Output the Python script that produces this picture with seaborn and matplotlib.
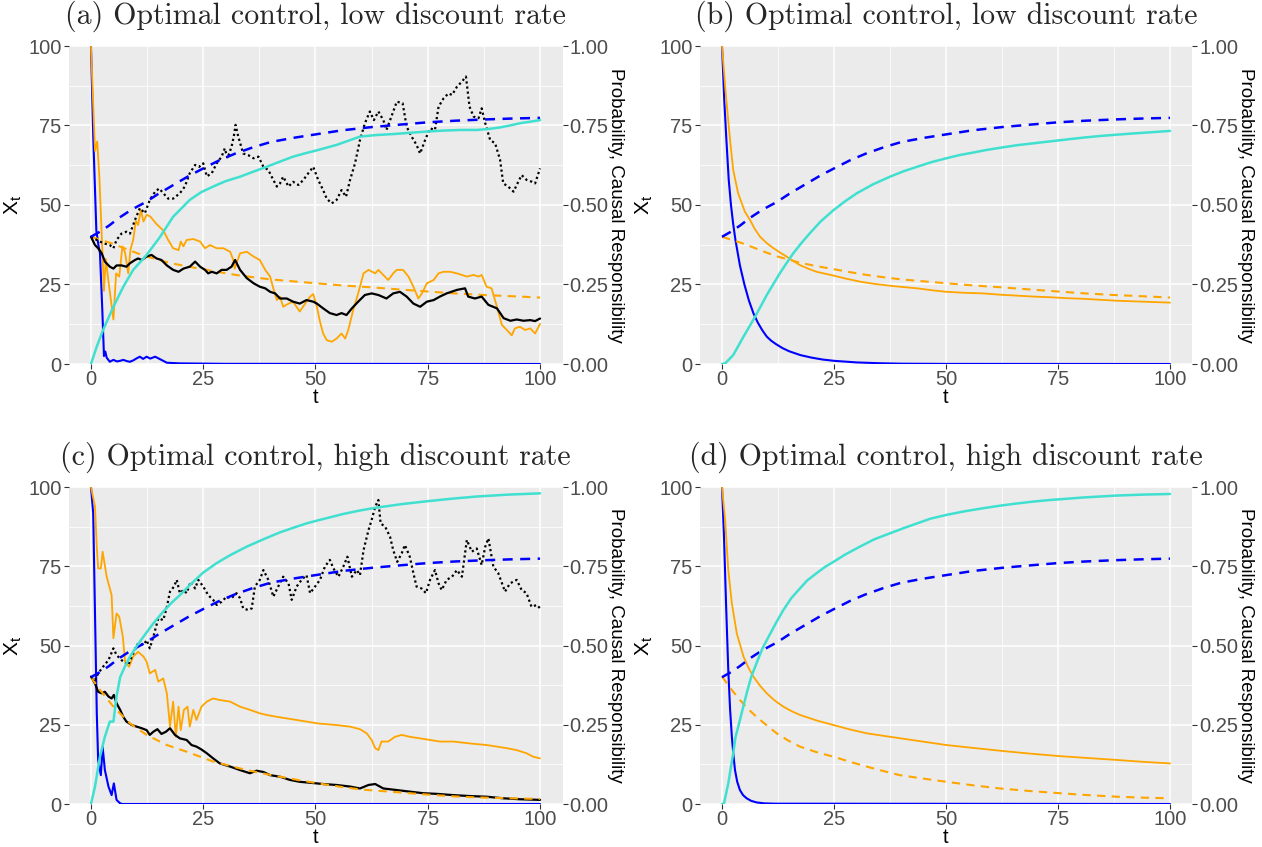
import numpy as np
import pandas as pd
import matplotlib
matplotlib.use("Agg")
import matplotlib.pyplot as plt
import seaborn as sns
from matplotlib.ticker import FixedLocator, FuncFormatter

# ---------------- data ----------------
# shared curves
blue_dashed = [(0, 40), (1, 40.8), (2, 41.6), (4, 43.5), (6.3, 46), (9, 48.5), (12.3, 51), (15, 53.5),
               (18.6, 56.5), (22, 59.3), (25, 61.5), (28.5, 64), (32, 66.1), (36, 68.1), (40, 69.8),
               (45, 71.1), (50, 72.2), (56, 73.5), (62.5, 74.5), (69, 75.3), (75, 76), (81, 76.5),
               (87.6, 76.9), (94, 77.2), (100, 77.4)]
orange_dashed_low = [(0, 40), (4.5, 38), (10, 35), (12.4, 33.8), (17.5, 31.8), (21, 30.8), (25, 29.8),
                     (28.5, 28.9), (32.3, 28), (36, 27.3), (40, 26.6), (45, 26), (50, 25.4), (56, 24.7),
                     (62.5, 24.1), (69, 23.4), (75, 22.8), (81, 22.2), (87.5, 21.7), (94, 21.3), (100, 20.9)]

# panel (a)
blue_a = [(0, 100), (0.5, 72), (1.2, 42), (1.7, 37), (2.0, 35), (2.5, 18), (2.9, 2.5), (3.2, 3.9),
          (3.5, 2.0), (4.2, 0.7), (5, 1.3), (5.8, 0.8), (6.5, 1.0), (7.2, 1.3), (8, 0.9), (8.7, 0.7),
          (9.5, 1.2), (10.2, 1.8), (10.9, 2.3), (11.6, 1.6), (12.4, 2.3), (13.2, 1.7), (14.3, 2.3),
          (15.4, 1.5), (16.9, 0.4), (19.8, 0.2), (30, 0.05), (100, 0)]
orange_a = [(0, 100), (0.9, 67), (1.4, 70), (1.9, 58), (2.9, 23), (3.3, 33), (3.9, 26), (5.0, 14),
            (5.6, 28.5), (6.3, 27.5), (7.0, 37), (7.6, 35), (8.3, 28.5), (8.8, 36), (9.4, 39), (10.0, 45),
            (10.5, 43.7), (11.1, 48.4), (11.7, 44.8), (12.4, 46.9), (13.2, 46.4), (14.6, 44), (16.1, 42),
            (17.2, 39), (18.3, 36.4), (19.5, 35.8), (20.0, 38.5), (20.6, 37), (21.3, 39), (22.8, 39.3),
            (24.3, 38.5), (25.4, 36.4), (26.5, 37.4), (28.0, 36.4), (29.5, 36.4), (31.0, 35.3), (31.7, 32.7),
            (32.0, 30), (33.2, 34.8), (34.7, 35.3), (36.2, 33.8), (37.6, 32.7), (38.8, 29.6), (39.9, 27.5),
            (40.6, 23.8), (41.4, 20.1), (42.1, 21.2), (42.8, 18), (44.0, 19), (45.0, 19.6), (46.5, 16.5),
            (47.7, 19), (48.8, 21.2), (49.5, 22), (50.3, 18), (51.0, 13.3), (51.7, 9.6), (52.5, 7.5),
            (53.6, 7), (54.7, 8), (55.8, 9.6), (56.6, 8), (57.3, 10.7), (58.4, 17), (59.5, 22.2),
            (60.7, 28.5), (61.8, 29.6), (63.3, 28.5), (64.0, 29.6), (65.1, 28), (66.2, 26.4), (67.3, 28.5),
            (68.1, 29.6), (69.5, 29.6), (70.7, 27.5), (71.8, 24.3), (72.9, 20.6), (73.7, 22.2), (74.8, 25.4),
            (76.3, 26.4), (77.4, 28.5), (78.5, 29), (80.0, 29), (81.5, 28.5), (83.7, 27.5), (85.2, 28),
            (86.3, 27.5), (87.0, 28), (88.1, 24.3), (89.2, 23.8), (90.4, 18), (91.5, 12.3), (92.6, 10.7),
            (93.7, 9), (94.4, 11.2), (95.5, 11.7), (96.7, 10.7), (97.8, 11.2), (98.9, 9.6), (100, 12.6)]
black_a = [(0, 40), (0.9, 37.4), (1.6, 36.4), (2.4, 34.8), (3.1, 32.2), (4.2, 30.6), (5, 30), (5.7, 31),
           (6.8, 31), (7.9, 30.6), (8.7, 31.7), (9.8, 32.7), (10.5, 33.2), (11.3, 32.7), (12.4, 33.8),
           (13.5, 34.3), (14.6, 33.2), (15.7, 32.7), (16.9, 31), (18.3, 29.6), (19.5, 29), (20.6, 30),
           (22, 30.6), (23.2, 32.2), (24.3, 30.6), (25.4, 29.6), (26.1, 28.5), (26.9, 29), (28, 28.5),
           (29.1, 29.6), (30.2, 29.6), (31.3, 30.6), (32.1, 32.7), (33.2, 29.6), (34.7, 27), (36.2, 25.4),
           (37.6, 24.3), (38.8, 23.8), (39.9, 22.7), (41, 22.2), (42.1, 20.6), (43.6, 20.6), (45, 19.6),
           (46.5, 19), (48, 20.1), (49.5, 19.6), (50.3, 19), (51.7, 17.5), (53.2, 16), (54.7, 15.4),
           (55.8, 16), (56.9, 15.4), (58.1, 17.5), (59.5, 19.6), (61, 21.7), (62.5, 22.2), (64, 21.7),
           (65.8, 20.6), (67.3, 22.2), (68.8, 22.7), (70.3, 21.2), (71.8, 19), (73.3, 18), (74.8, 19.6),
           (76.3, 20.1), (77.7, 21.2), (79.2, 22.2), (81.5, 23.3), (83.3, 23.8), (84, 21.2), (85.5, 20.6),
           (87, 21.2), (88.5, 18.6), (90.4, 17.5), (91.9, 14.4), (93.4, 13.6), (94.8, 14), (96.3, 13.6),
           (97.8, 13.8), (98.9, 13.5), (100, 14.3)]
dotted_a = [(0, 40), (1.3, 39), (2.7, 38), (4.2, 37.4), (5, 36.4), (5.7, 39), (6.8, 41), (7.9, 41.6),
            (8.7, 41), (9.8, 45.3), (10.9, 49), (12, 47.4), (13.1, 51.6), (14.3, 54.2), (15.2, 55.2),
            (16.1, 53.7), (17.2, 52), (18.3, 52), (19.8, 53.7), (20.9, 55.8), (22, 60), (23.2, 62.6),
            (24.1, 62), (25, 63.1), (25.8, 59), (26.9, 60), (28, 63.1), (29.1, 65.2), (29.8, 67.8),
            (30.4, 64.7), (31.3, 68.3), (31.8, 71.5), (32.2, 75.2), (32.8, 71.5), (33.9, 66.2), (35, 65.7),
            (36.2, 64.7), (37.3, 65.2), (38.4, 62), (39.5, 61), (40.6, 57.9), (41.4, 55.8), (42.1, 56.8),
            (42.8, 58.9), (44, 55.8), (45, 57.3), (46.2, 56.3), (47.3, 57.9), (48.4, 60), (49.5, 62),
            (50.6, 57.9), (51.7, 54.7), (52.5, 52), (53.6, 50.5), (54.7, 51.6), (55.8, 54.7), (56.8, 52.6),
            (57.7, 57.9), (58.8, 63.1), (59.9, 70.4), (61, 75.7), (62.1, 79.4), (63, 76.7), (64, 79.4),
            (65.1, 76.7), (65.8, 73.6), (66.9, 77.8), (68.1, 82.5), (69.4, 82), (70.3, 74.6), (71.4, 71.5),
            (72.5, 68.9), (73.3, 66.2), (74.4, 70.4), (75.5, 74.1), (76.6, 73.6), (77.4, 80.9), (78.5, 83.5),
            (79.6, 85.1), (80.4, 84.6), (81.5, 87.2), (82.6, 88.8), (83.5, 90.4), (84.3, 80.9), (85.2, 77.8),
            (86.3, 77.3), (87, 80.4), (87.8, 75.7), (88.9, 70.4), (90, 69.4), (91.1, 64.2), (91.8, 56.8),
            (92.9, 55.8), (94.1, 54.2), (94.8, 56.3), (95.9, 59.4), (97, 57.9), (98.2, 57.3), (98.9, 56.8),
            (100, 61.5)]
turq_a = [(0, 0), (1.3, 0.055), (2.7, 0.107), (5, 0.18), (7.2, 0.243), (9.4, 0.296), (12.4, 0.343),
          (15.4, 0.40), (18.3, 0.463), (22, 0.516), (24.5, 0.54), (27.2, 0.558), (30, 0.575), (33.2, 0.589),
          (36, 0.604), (39.1, 0.62), (42, 0.636), (45, 0.652), (47.8, 0.663), (50.6, 0.673), (54.7, 0.689),
          (57.5, 0.703), (59.9, 0.715), (63.5, 0.72), (67.3, 0.723), (71, 0.727), (74.8, 0.731), (78.5, 0.734),
          (82.2, 0.736), (85.9, 0.736), (88.5, 0.739), (91.1, 0.744), (93.3, 0.75), (95.5, 0.757),
          (97.8, 0.762), (100, 0.767)]

# panel (b)
blue_b = [(0, 100), (0.5, 83), (1, 70), (1.5, 58), (2, 50), (2.5, 44), (3, 39), (3.5, 35), (4, 31),
          (4.5, 28), (5, 25), (5.5, 22.5), (6, 20), (7, 16), (8, 13), (9, 10.6), (10, 8.6), (11, 7.3),
          (12, 6.3), (13.5, 5), (15, 4), (17.5, 2.8), (20, 2), (22.5, 1.4), (25, 1), (30, 0.5), (35, 0.25),
          (40, 0.1), (50, 0.03), (100, 0)]
orange_b = [(0, 100), (0.9, 84), (1.8, 70.4), (2.5, 61), (3.6, 53.7), (5.1, 47.9), (6.25, 45.3), (7.3, 42.5),
            (8.5, 40), (10, 38), (11.5, 36.4), (13, 35), (14.4, 33.8), (15.9, 32.4), (17.4, 31.1), (19.2, 30),
            (21.1, 29), (23, 28.4), (24.9, 27.8), (27.8, 26.8), (30.8, 25.9), (34, 25.2), (37.5, 24.6),
            (40.5, 24.2), (43.5, 23.8), (46.8, 23.2), (50.1, 22.7), (54, 22.4), (58.3, 22.2), (62, 21.8),
            (65.8, 21.5), (69.5, 21.2), (73.2, 21), (77, 20.7), (80.7, 20.5), (84.4, 20.2), (88.1, 19.9),
            (94, 19.6), (100, 19.3)]
turq_b = [(0, 0), (0.7, 0.002), (2.5, 0.028), (4.8, 0.086), (6, 0.115), (7.4, 0.149), (8.7, 0.183),
          (10, 0.217), (11.4, 0.25), (12.9, 0.285), (14.4, 0.317), (15.9, 0.348), (17.7, 0.38),
          (19.6, 0.411), (22, 0.448), (24.9, 0.484), (27.5, 0.512), (30.1, 0.537), (33.7, 0.565),
          (37.5, 0.589), (40.5, 0.606), (43.5, 0.62), (46.8, 0.635), (50.1, 0.647), (53, 0.657),
          (56.1, 0.665), (59, 0.673), (62.1, 0.68), (65.8, 0.688), (69.5, 0.694), (73.2, 0.70), (76.9, 0.706),
          (80.7, 0.712), (84.4, 0.717), (88, 0.721), (91.8, 0.725), (96, 0.729), (100, 0.733)]

# panel (c)
blue_c = [(0, 100), (0.5, 91.7), (0.9, 60), (1.3, 28.6), (1.6, 13.9), (2.2, 9.1), (2.6, 18), (3.1, 10.7),
          (3.9, 5.5), (4.6, 2.8), (5.1, 6.5), (5.7, 1.3), (6.5, 0.2), (7, 0), (100, 0)]
orange_c = [(0, 100), (0.9, 93.8), (1.3, 81), (1.6, 74.3), (2.2, 74.3), (2.6, 79.6), (3.5, 71.7), (4.6, 65.9),
            (5, 52.3), (5.7, 60.1), (6.3, 59.1), (7.1, 52.8), (7.6, 44.9), (8.5, 43.3), (9.4, 46.5),
            (10.5, 48), (11.7, 46.5), (12.4, 44.9), (13.1, 41.2), (14.3, 42.3), (15, 38.6), (16.1, 39.6),
            (16.9, 34.9), (17.6, 24.4), (18.3, 32.3), (18.9, 21.2), (19.5, 30.7), (20, 23.3), (20.7, 29.7),
            (21.5, 30.7), (22, 24.4), (22.8, 29.7), (23.5, 26.5), (24.6, 30.7), (25.8, 32.3), (27.2, 33.3),
            (28.7, 32.8), (31, 32.3), (33.2, 30.7), (35.4, 29.7), (37.6, 28.6), (39.1, 28.1), (41.4, 27.5),
            (43.6, 27), (45.8, 26.5), (48, 26), (50.6, 25.4), (54.7, 24.9), (57.7, 24.4), (59.9, 23.6),
            (61.4, 22.3), (62.5, 20.2), (63.3, 17.6), (64, 17), (64.7, 19.7), (66.2, 19.7), (67.7, 21.2),
            (69.2, 21.8), (71, 21.2), (73.3, 20.7), (75.5, 20.2), (77.7, 19.7), (80.7, 19.7), (84.4, 19.1),
            (88.1, 18.6), (90.4, 18.1), (92.6, 17.6), (94.8, 17), (97, 16), (98.5, 14.9), (100, 14.4)]
black_c = [(0, 40.2), (0.9, 38), (1.6, 35.4), (2.4, 34.9), (3.1, 35.4), (3.9, 33.9), (4.6, 33.3), (5.1, 34.4),
           (5.7, 31.8), (6.5, 29.7), (7.2, 27.5), (7.9, 26), (9.1, 24.9), (10.2, 24.4), (11.3, 23.9),
           (12.4, 23.3), (13.1, 21.8), (13.9, 22.8), (14.8, 23.6), (15.7, 22.1), (16.7, 22.8), (17.6, 23.9),
           (18.7, 21.8), (19.8, 20.7), (21.3, 20.2), (22.4, 18.6), (23.5, 18.1), (24.6, 17.2), (25.8, 16),
           (27.2, 14.4), (28.7, 12.8), (31, 11.8), (33.2, 10.7), (35.4, 9.7), (36.9, 10.5), (38.4, 10.1),
           (39.9, 9.1), (42.1, 8.6), (44.3, 7.6), (46.5, 7), (48.8, 6.7), (51.7, 6.3), (54.7, 6), (57.7, 5.5),
           (59.9, 4.9), (61.8, 6), (63.3, 6.3), (65.1, 4.9), (68.1, 4.4), (71, 3.9), (74, 3.4), (77, 3.2),
           (80.7, 2.8), (84.4, 2.5), (88.1, 2.3), (91.8, 1.8), (95.5, 1.5), (100, 1.3)]
orange_dashed_c = [(0, 40), (2, 36), (5, 30.7), (8.7, 25.4), (12.4, 21.8), (16.9, 18.6), (21.3, 16.5),
                   (27.2, 13.4), (31, 12), (34.7, 10.7), (38.4, 9.6), (42.1, 8.6), (46.4, 7.5), (50.6, 6.5),
                   (55.3, 5.5), (59.9, 4.6), (65.5, 4), (71, 3.4), (76.6, 2.8), (82.2, 2.3), (87.8, 2),
                   (93.3, 1.8), (100, 1.6)]
dotted_c = [(0, 40.2), (0.9, 39.1), (1.6, 41.2), (2.7, 43.3), (3.9, 45.4), (5, 49.1), (5.7, 47), (6.8, 45.4),
            (8.3, 43.8), (9.4, 47.5), (10.5, 50.7), (11.7, 50.2), (12.4, 51.7), (13.1, 49.1), (13.9, 52.8),
            (15, 58.6), (16.1, 58), (16.9, 62.2), (17.6, 67), (18.5, 68.6), (19.1, 70.7), (19.8, 66.5),
            (20.6, 67.5), (21.3, 66.5), (22.2, 70.1), (23.2, 68), (23.9, 70.7), (25, 68.6), (26.1, 65.9),
            (27.2, 64.4), (28, 62.8), (29.1, 63.8), (30.2, 65.4), (31.3, 64.9), (32.4, 66.5), (33.2, 64.9),
            (33.9, 61.7), (35, 61.2), (35.8, 61.7), (36.5, 68.6), (37.6, 70.7), (38.4, 73.8), (39.5, 70.7),
            (40.6, 65.4), (41.7, 68.6), (42.8, 71.7), (44, 69.6), (44.7, 64.4), (45.8, 68.6), (46.9, 70.7),
            (48, 72.2), (48.8, 66.5), (49.9, 68.6), (51, 70.7), (52.1, 74.9), (53.2, 77), (54, 74.3),
            (55.1, 71.7), (56.2, 74.9), (57.1, 78), (58.1, 71.7), (59.2, 73.8), (59.9, 72.2), (60.7, 80.1),
            (61.8, 86.4), (62.5, 89.6), (63.3, 93.8), (64, 95.9), (64.5, 88.5), (65.5, 87.5), (66.6, 84.3),
            (67.3, 80.1), (68.2, 76.4), (69.2, 79.1), (69.9, 81.7), (71, 78), (71.8, 72.8), (72.5, 68.6),
            (73.6, 68), (74.6, 66.5), (75.5, 70.7), (76.6, 73.8), (77.4, 69.6), (78.1, 67.5), (79.2, 70.7),
            (80.4, 71.7), (81.5, 73.8), (82.6, 71.7), (83.7, 83.3), (84.8, 79.6), (85.9, 80.6), (87, 75.4),
            (87.8, 81.2), (88.5, 83.8), (89.6, 74.9), (90.7, 72.8), (92.2, 67), (93.3, 69.6), (94.8, 70.7),
            (95.9, 67.5), (97, 66.5), (98.1, 62.2), (99.3, 62.8), (100, 61.7)]
turq_c = [(0, 0), (0.9, 0.055), (2, 0.149), (3.1, 0.212), (4.2, 0.26), (5, 0.26), (5.7, 0.34), (6.5, 0.40),
          (7.6, 0.435), (8.7, 0.465), (10.2, 0.498), (11.7, 0.528), (13.9, 0.57), (16.1, 0.607),
          (17.9, 0.634), (19.8, 0.659), (22.4, 0.696), (25, 0.73), (28, 0.76), (31, 0.785), (34.7, 0.812),
          (38.4, 0.835), (42.1, 0.857), (45.8, 0.875), (48.2, 0.886), (50.6, 0.895), (53.4, 0.905),
          (56.2, 0.915), (59.9, 0.926), (63.6, 0.935), (69.2, 0.946), (74.8, 0.955), (80.3, 0.963),
          (85.9, 0.97), (93, 0.976), (100, 0.98)]

# panel (d)
blue_d = [(0, 100), (0.45, 84), (0.9, 63.3), (1.4, 42.3), (1.8, 30), (2.2, 21.2), (2.55, 15.5), (2.9, 10.7),
          (3.4, 7), (4, 4.4), (4.7, 2.8), (5.5, 1.8), (6.5, 1), (7.7, 0.5), (9.5, 0.2), (12, 0.1), (100, 0)]
orange_d = [(0, 100), (0.7, 89.6), (1.4, 73.8), (2.2, 63.3), (3.3, 53.8), (4.8, 46.5), (5.9, 43), (7, 40.2),
            (8.5, 37.3), (10, 34.9), (11.8, 32.6), (13.7, 30.7), (15.5, 29.3), (17.4, 28.1), (21, 26.4),
            (24.9, 24.9), (28.6, 23.5), (32.3, 22.3), (37.5, 21.2), (43.8, 19.9), (50.1, 18.6), (56, 17.7),
            (62.1, 16.8), (68.7, 15.9), (75.4, 15.1), (81.7, 14.5), (88.1, 13.9), (94, 13.3), (100, 12.8)]
orange_dashed_d = [(0, 40.2), (2, 36.3), (4, 32.8), (5.8, 30), (7.7, 27.5), (10, 24.8), (12.2, 22.3),
                   (14.8, 20), (17.4, 18.1), (21, 16.4), (24.9, 14.9), (28.6, 13.3), (32.3, 11.8), (36, 10.4),
                   (39.7, 9.1), (45, 8), (50.1, 7), (56, 5.9), (62.1, 4.9), (68.7, 4.1), (75.4, 3.4),
                   (81.7, 2.8), (88.1, 2.3), (94, 2), (100, 1.8)]
turq_d = [(0, 0), (0.45, 0.002), (1.4, 0.065), (2.5, 0.16), (3, 0.21), (4, 0.265), (5.5, 0.349), (6.5, 0.40),
          (7.7, 0.444), (9, 0.49), (10, 0.517), (12, 0.57), (13.7, 0.612), (15.5, 0.65), (17.4, 0.68),
          (19, 0.705), (21.1, 0.728), (23, 0.748), (24.9, 0.764), (27.5, 0.787), (30.8, 0.812), (34, 0.835),
          (37.5, 0.854), (40.5, 0.87), (43.5, 0.885), (46.5, 0.9), (50.1, 0.912), (54, 0.923), (58.3, 0.933),
          (62, 0.941), (65.8, 0.948), (69.5, 0.954), (73.2, 0.959), (77, 0.963), (80.7, 0.967), (84.4, 0.97),
          (88.1, 0.973), (94, 0.976), (100, 0.978)]

titles = ["(a) Optimal control, low discount rate", "(b) Optimal control, low discount rate",
          "(c) Optimal control, high discount rate", "(d) Optimal control, high discount rate"]
x_ticks = [0, 25, 50, 75, 100]
y_ticks = [0, 25, 50, 75, 100]
p_ticks = [0.0, 0.25, 0.5, 0.75, 1.0]

# ---------------- styling ----------------
BLUE, ORANGE, TURQ, BLACK = "#0000FF", "#FFA500", "#40E0D0", "#000000"
sns.set_theme(style="white")
plt.rcParams["font.family"] = ["Liberation Sans", "DejaVu Sans"]
plt.rcParams["mathtext.default"] = "regular"

W, H = 1262, 847
fig = plt.figure(figsize=(W / 100, H / 100), dpi=100)

panels = [
    dict(title=titles[0], rect=(68.5, 46, 562.5, 364),
         lines=[(turq_a, TURQ, "-", 1.8, "r"), (blue_a, BLUE, "-", 1.5, "l"), (orange_a, ORANGE, "-", 1.3, "l"),
                (orange_dashed_low, ORANGE, "--", 1.5, "l"), (black_a, BLACK, "-", 1.6, "l"),
                (dotted_a, BLACK, ":", 1.6, "l"), (blue_dashed, BLUE, "--", 1.8, "l")]),
    dict(title=titles[1], rect=(699.6, 46, 1192.4, 364),
         lines=[(turq_b, TURQ, "-", 1.8, "r"), (blue_b, BLUE, "-", 1.5, "l"), (orange_b, ORANGE, "-", 1.3, "l"),
                (orange_dashed_low, ORANGE, "--", 1.5, "l"), (blue_dashed, BLUE, "--", 1.8, "l")]),
    dict(title=titles[2], rect=(68.5, 487, 562.5, 804),
         lines=[(turq_c, TURQ, "-", 1.8, "r"), (blue_c, BLUE, "-", 1.5, "l"), (orange_c, ORANGE, "-", 1.3, "l"),
                (black_c, BLACK, "-", 1.6, "l"), (orange_dashed_c, ORANGE, "--", 1.5, "l"),
                (dotted_c, BLACK, ":", 1.6, "l"), (blue_dashed, BLUE, "--", 1.8, "l")]),
    dict(title=titles[3], rect=(699.6, 487, 1192.4, 804),
         lines=[(turq_d, TURQ, "-", 1.8, "r"), (blue_d, BLUE, "-", 1.5, "l"), (orange_d, ORANGE, "-", 1.3, "l"),
                (orange_dashed_d, ORANGE, "--", 1.5, "l"), (blue_dashed, BLUE, "--", 1.8, "l")]),
]

TICK_C, LAB_C = "#333333", "#4D4D4D"

for p in panels:
    x0, y0, x1, y1 = p["rect"]
    pos = [x0 / W, 1 - y1 / H, (x1 - x0) / W, (y1 - y0) / H]
    ax = fig.add_axes(pos)
    ax2 = ax.twinx()
    ax.set_facecolor("#EBEBEB")
    ax.set_xlim(-5, 105)
    ax.set_ylim(0, 100)
    ax2.set_ylim(0, 1)
    for a in (ax, ax2):
        for s in a.spines.values():
            s.set_visible(False)
    ax.xaxis.set_major_locator(FixedLocator(x_ticks))
    ax.yaxis.set_major_locator(FixedLocator(y_ticks))
    ax.xaxis.set_minor_locator(FixedLocator([12.5, 37.5, 62.5, 87.5]))
    ax.yaxis.set_minor_locator(FixedLocator([12.5, 37.5, 62.5, 87.5]))
    ax.grid(which="major", color="white", linewidth=1.1)
    ax.grid(which="minor", color="white", linewidth=0.55)
    ax.set_axisbelow(True)
    ax2.yaxis.set_major_locator(FixedLocator(p_ticks))
    ax2.yaxis.set_major_formatter(FuncFormatter(lambda v, _: f"{v:.2f}"))
    ax2.grid(False)
    for a in (ax, ax2):
        a.tick_params(which="major", length=3.5, width=0.8, color=TICK_C, labelcolor=LAB_C,
                      labelsize=14.5, pad=1.5)
        a.tick_params(which="minor", length=0)
    ax.tick_params(axis="x", bottom=True, pad=1)
    ax.tick_params(axis="y", left=True)
    ax2.tick_params(axis="y", right=True)

    for data, col, ls, lw, side in p["lines"]:
        df = pd.DataFrame(data, columns=["t", "v"])
        target = ax2 if side == "r" else ax
        kw = {}
        if ls == "--":
            kw["dashes"] = (4, 3)
        elif ls == ":":
            kw["dashes"] = (1, 1.3)
        sns.lineplot(data=df, x="t", y="v", ax=target, color=col, linewidth=lw,
                     estimator=None, sort=False, **kw)
    ax.set_xlabel("t", fontsize=14.5, labelpad=-1, color="black")
    ax.set_ylabel("X$_t$", fontsize=15, labelpad=3, color="black")
    ax2.set_ylabel("Probability, Causal Responsibility", fontsize=13.5, rotation=270, labelpad=11,
                   color="black")
    ax2.set_xlim(-5, 105)
    fig.text((x0 + x1) / 2 / W, 1 - (y0 - 30) / H, p["title"], ha="center", va="center",
             fontsize=21.5, family="cmr10")

fig.savefig("out.png", dpi=100)
